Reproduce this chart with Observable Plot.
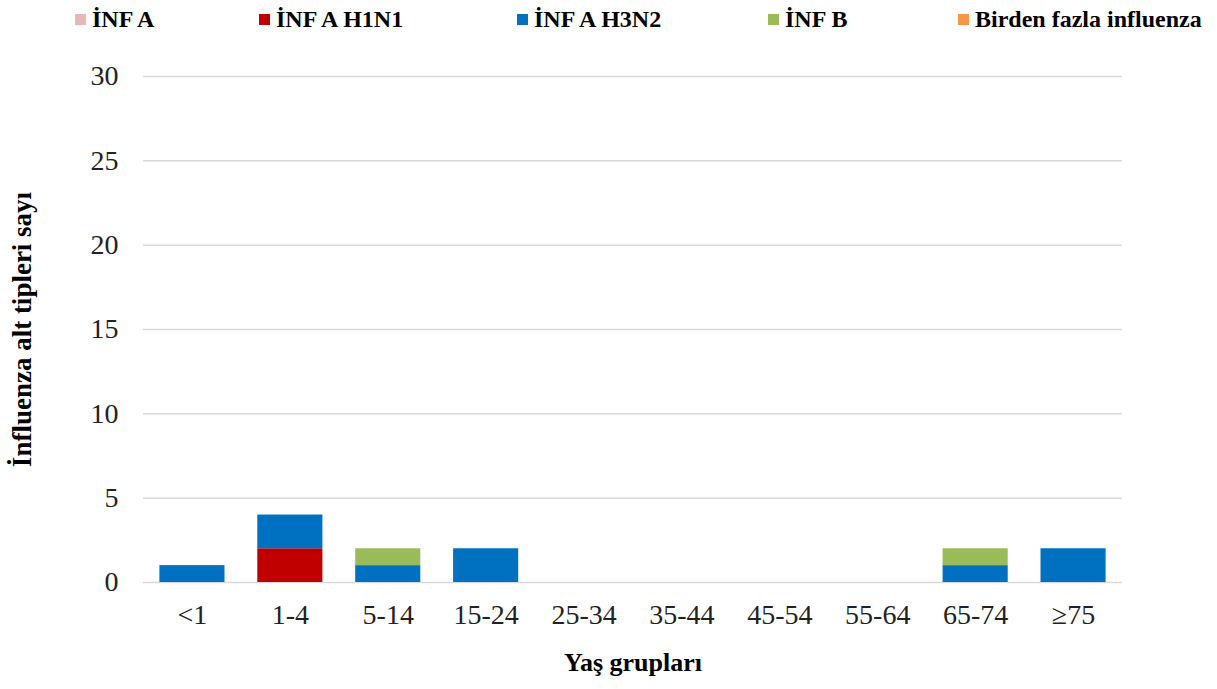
<!DOCTYPE html>
<html>
<head>
<meta charset="utf-8">
<script src="https://cdn.jsdelivr.net/npm/d3@7"></script>
<script src="https://cdn.jsdelivr.net/npm/@observablehq/plot@0.6"></script>
<style>
  html, body { margin: 0; padding: 0; background: #fff; }
  #wrap { position: relative; width: 1217px; height: 689px; font-family: "Liberation Serif", "Times New Roman", serif; }
  .leg { position: absolute; top: 6px; height: 26px; font-weight: bold; font-size: 24px; color: #000; display: flex; align-items: center; white-space: nowrap; font-family: "Liberation Serif", "Times New Roman", serif; }
  .sw { width: 11px; height: 11px; margin-right: 6px; display: inline-block; }
  svg text { font-family: "Liberation Serif", "Times New Roman", serif; }
</style>
</head>
<body>
<div id="wrap"></div>
<script>
const ageGroups = ["<1", "1-4", "5-14", "15-24", "25-34", "35-44", "45-54", "55-64", "65-74", "≥75"];
const seriesNames = ["İNF A", "İNF A H1N1", "İNF A H3N2", "İNF B", "Birden fazla influenza"];
const seriesColors = ["#E6B9B8", "#C00000", "#0070C0", "#9BBB59", "#F79646"];
const infA     = [0, 0, 0, 0, 0, 0, 0, 0, 0, 0];
const infAH1N1 = [0, 2, 0, 0, 0, 0, 0, 0, 0, 0];
const infAH3N2 = [1, 2, 1, 2, 0, 0, 0, 0, 1, 2];
const infB     = [0, 0, 1, 0, 0, 0, 0, 0, 1, 0];
const birden   = [0, 0, 0, 0, 0, 0, 0, 0, 0, 0];
const yTicks = [0, 5, 10, 15, 20, 25, 30];
const legendLeft = [75, 259, 517, 768, 958];

const allSeries = [infA, infAH1N1, infAH3N2, infB, birden];
const data = [];
seriesNames.forEach((s, i) => {
  ageGroups.forEach((g, j) => {
    data.push({group: g, series: s, value: allSeries[i][j]});
  });
});

const serif = '"Liberation Serif", "Times New Roman", serif';
const chart = Plot.plot({
  width: 1217,
  height: 689,
  marginTop: 76,
  marginBottom: 107,
  marginLeft: 143,
  marginRight: 95,
  style: {fontFamily: serif, background: "#fff", color: "#000"},
  x: {domain: ageGroups, paddingInner: 0.335, paddingOuter: 0.1675, round: false, label: null},
  y: {domain: [0, 30], ticks: yTicks, label: null},
  color: {domain: seriesNames, range: seriesColors},
  marks: [
    Plot.gridY(yTicks, {stroke: "#d9d9d9", strokeOpacity: 1, strokeWidth: 1.5}),
    Plot.barY(data.filter(d => d.value > 0), Plot.stackY({order: seriesNames}, {x: "group", y: "value", fill: "series"})),
    Plot.axisY(yTicks, {tickSize: 0, tickPadding: 25, fontSize: 28, fontFamily: serif, label: null, fill: "#222"}),
    Plot.axisX({tickSize: 0, tickPadding: 22, fontSize: 28, fontFamily: serif, label: null, fill: "#222"}),
    Plot.text(["Yaş grupları"], {frameAnchor: "bottom", dy: 88, fontSize: 26, fontWeight: "bold", fontFamily: serif}),
    Plot.text(["İnfluenza alt tipleri sayı"], {frameAnchor: "left", textAnchor: "middle", dx: -121, rotate: -90, fontSize: 27, fontWeight: "bold", fontFamily: serif})
  ]
});

const wrap = document.getElementById("wrap");
wrap.appendChild(chart);
seriesNames.forEach((s, i) => {
  const el = document.createElement("div");
  el.className = "leg";
  el.style.left = legendLeft[i] + "px";
  const sw = document.createElement("span");
  sw.className = "sw";
  sw.style.background = seriesColors[i];
  el.appendChild(sw);
  el.appendChild(document.createTextNode(s));
  wrap.appendChild(el);
});
</script>
</body>
</html>
